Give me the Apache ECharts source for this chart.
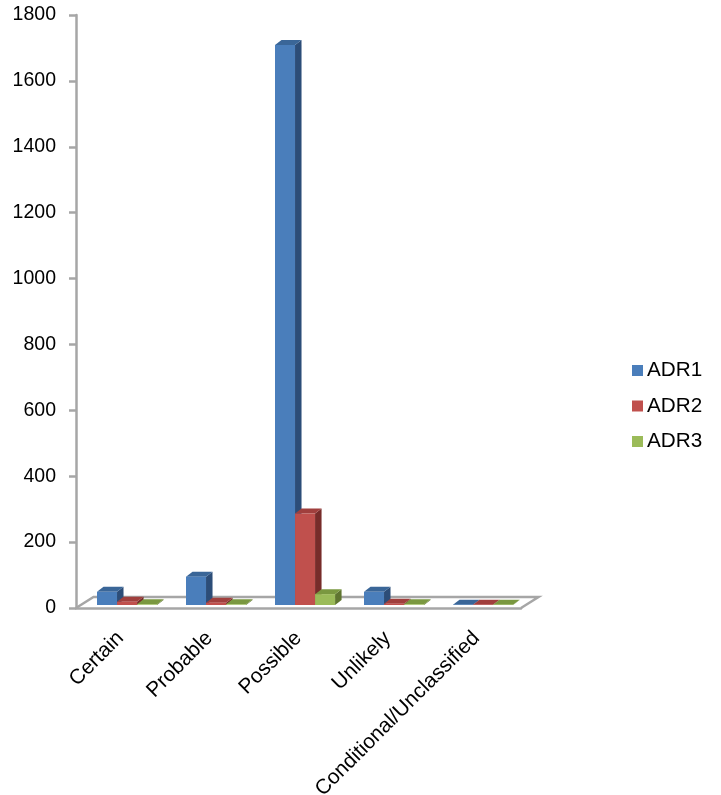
<!DOCTYPE html>
<html>
<head>
<meta charset="utf-8">
<title>ADR chart</title>
<script src="https://cdn.jsdelivr.net/npm/echarts@6/dist/echarts.min.js"></script>
<style>
  html, body { margin: 0; padding: 0; background: #fff; }
  #chart { width: 721px; height: 795px; }
</style>
</head>
<body>
<div id="chart"></div>
<script>
const categories = ['Certain', 'Probable', 'Possible', 'Unlikely', 'Conditional/Unclassified']
const adr1 = [40, 86, 1700, 40, 1]
const adr2 = [10, 7, 278, 4, 1]
const adr3 = [2, 2, 33, 2, 1]

const axisGray = '#a6a6a6'
const axisWidth = 2.5
const labelFont = { color: '#000', fontFamily: 'Liberation Sans, Arial, sans-serif', fontSize: 19.5 }

// fake 3d: box depth in px, the floor is a bit deeper than the bars
const depthX = 6.5
const depthY = 5
const floorX = 17.5
const floorY = 11
const baseLift = 3

// front / top / side shades per series
const shades = [
  ['#4a7ebb', '#3a6698', '#2c4d78'],
  ['#c0504d', '#a03f3d', '#772c2a'],
  ['#9bbb59', '#7a9840', '#5f7530']
]

const barRender = (seriesIdx) => (params, api) => {
  const band = api.size([1, 0])[0]
  const barW = band * 0.225
  const base = api.coord([api.value(0), 0])
  const top = api.coord([api.value(0), api.value(1)])
  const x0 = base[0] - band / 2 + band * 0.236 + seriesIdx * barW
  const x1 = x0 + barW
  const yb = base[1] - baseLift
  const yt = top[1] - baseLift
  const poly = (points, fill) => ({ type: 'polygon', shape: { points }, style: { fill, stroke: null } })
  return {
    type: 'group',
    children: [
      poly([[x1, yb], [x1 + depthX, yb - depthY], [x1 + depthX, yt - depthY], [x1, yt]], shades[seriesIdx][2]),
      poly([[x0, yt], [x0 + depthX, yt - depthY], [x1 + depthX, yt - depthY], [x1, yt]], shades[seriesIdx][1]),
      poly([[x0, yb], [x1, yb], [x1, yt], [x0, yt]], shades[seriesIdx][0])
    ]
  }
}

// floor outline behind the bars
const floorRender = (params, api) => {
  const a = api.coord([0, 0])
  const b = api.coord([categories.length - 1, 0])
  const band = api.size([1, 0])[0]
  const left = a[0] - band / 2
  const right = b[0] + band / 2
  return {
    type: 'polyline',
    shape: {
      points: [
        [left, a[1]],
        [left + floorX, a[1] - floorY],
        [right + floorX, a[1] - floorY],
        [right, a[1]]
      ]
    },
    style: { fill: null, stroke: axisGray, lineWidth: axisWidth }
  }
}

const chart = echarts.init(document.getElementById('chart'), null, { renderer: 'canvas' })

chart.setOption({
  animation: false,
  backgroundColor: '#fff',
  legend: {
    orient: 'vertical',
    left: 627,
    top: 355,
    icon: 'rect',
    itemWidth: 11,
    itemHeight: 11,
    itemGap: 14.5,
    selectedMode: false,
    textStyle: { ...labelFont, fontSize: 20.7, padding: [0, 0, 0, -1] },
    data: [
      { name: 'ADR1', itemStyle: { color: shades[0][0] } },
      { name: 'ADR2', itemStyle: { color: shades[1][0] } },
      { name: 'ADR3', itemStyle: { color: shades[2][0] } }
    ]
  },
  grid: { left: 76, right: 200, top: 15, bottom: 187, outerBoundsMode: 'none' },
  xAxis: {
    type: 'category',
    data: categories,
    axisLine: { lineStyle: { color: axisGray, width: axisWidth } },
    axisTick: { length: 8, lineStyle: { color: axisGray, width: axisWidth } },
    axisLabel: { ...labelFont, fontSize: 20.9, rotate: 45, interval: 0, margin: 27 }
  },
  yAxis: {
    type: 'value',
    min: 0,
    max: 1800,
    interval: 200,
    splitLine: { show: false },
    axisLine: { show: true, lineStyle: { color: axisGray, width: axisWidth } },
    axisTick: { show: true, length: 7, lineStyle: { color: axisGray, width: axisWidth } },
    axisLabel: { ...labelFont, margin: 20, formatter: (v) => String(v) }
  },
  series: [
    { type: 'custom', name: 'floor', silent: true, z: 1, clip: false, renderItem: floorRender, data: [[0, 0]] },
    {
      type: 'custom', name: 'ADR1', z: 2, clip: false, renderItem: barRender(0),
      encode: { x: 0, y: 1 }, itemStyle: { color: shades[0][0] },
      data: adr1.map((v, i) => [i, v])
    },
    {
      type: 'custom', name: 'ADR2', z: 3, clip: false, renderItem: barRender(1),
      encode: { x: 0, y: 1 }, itemStyle: { color: shades[1][0] },
      data: adr2.map((v, i) => [i, v])
    },
    {
      type: 'custom', name: 'ADR3', z: 4, clip: false, renderItem: barRender(2),
      encode: { x: 0, y: 1 }, itemStyle: { color: shades[2][0] },
      data: adr3.map((v, i) => [i, v])
    }
  ]
})
</script>
</body>
</html>
